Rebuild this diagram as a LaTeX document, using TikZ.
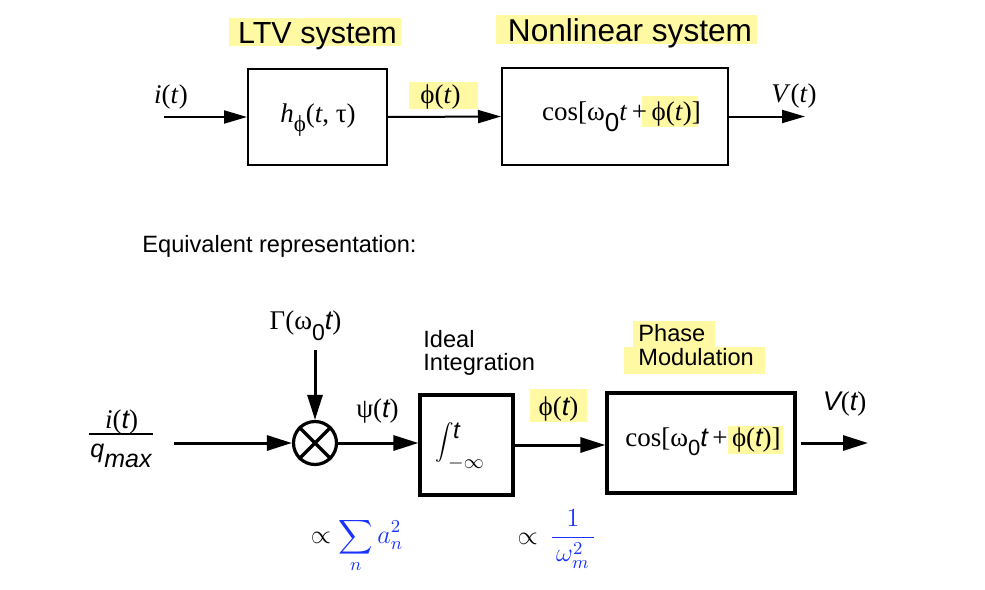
\RequirePackage{fix-cm}
\documentclass[tikz,border=0pt]{standalone}
\usepackage{exscale}
\usepackage[no-math]{fontspec}
\usetikzlibrary{arrows.meta}
\newfontfamily\lsans{Liberation Sans}
\newfontfamily\lserif{Liberation Serif}
\definecolor{hl}{HTML}{FFF9A3}
\definecolor{mblue}{HTML}{1A33FF}
\newcommand\ti[1]{\textit{#1}}
\newcommand\st{{\lsans\itshape t}}
\newcommand\zsub[3]{\raisebox{-#1}{\lsans\fontsize{#2}{#2}\selectfont #3}}
\begin{document}
\begin{tikzpicture}[x=0.5pt,y=-0.5pt,
  boxA/.style={draw,line width=1pt,inner sep=0pt},
  boxB/.style={draw,line width=1.6pt,inner sep=0pt},
  arrA/.style={line width=1pt,-{Triangle[length=11.5pt,width=6.5pt]}},
  arrB/.style={line width=1.5pt,-{Triangle[length=12.5pt,width=7.5pt]}},
  srf/.style={inner sep=0pt,font=\lserif\fontsize{13.5}{15}\selectfont},
  txt/.style={inner sep=0pt,font=\lsans\fontsize{11.8}{14}\selectfont},
  mth/.style={inner sep=0pt,font=\fontsize{13}{15}\selectfont}]
\useasboundingbox (0,0) rectangle (985,589);
% ---------- top row ----------
\fill[hl] (229,18) rectangle (401,46);
\fill[hl] (496,15) rectangle (757,44);
\fill[hl] (409,82) rectangle (478,109);
\fill[hl] (642,96) rectangle (698,127);
\node[inner sep=0pt,font=\lsans\fontsize{15.25}{17}\selectfont,anchor=base] (ltv) at (317.5,43) {LTV system};
\node[inner sep=0pt,font=\lsans\fontsize{15.8}{17}\selectfont,anchor=base] (nls) at (630,41) {Nonlinear system};
\node[boxA,minimum width=69.5pt,minimum height=48pt] (b1) at (317.5,117) {};
\node[boxA,minimum width=113pt,minimum height=48.5pt] (b2) at (615,116.5) {};
\node[srf,anchor=base] (b1t) at (318,122) {\ti{h}\raisebox{-4.5pt}{\fontsize{11.5}{12}\selectfont ϕ}(\ti{t}, τ)};
\node[srf,anchor=base] (b2t) at (621.5,120) {cos[ω\zsub{5.5pt}{13}{0}\ti{t}\,+\,ϕ(\ti{t})]};
\node[srf,anchor=base] (it1) at (171,103) {\ti{i}(\ti{t})};
\node[srf,anchor=base] (ph1) at (440.5,103) {ϕ(\ti{t})};
\node[srf,anchor=base] (vt1) at (794,102) {\ti{V}(\ti{t})};
\coordinate (in1) at (164,117);
\coordinate (out1) at (805,116.5);
\draw[arrA] (in1) -- (in1 -| b1.west);
\draw[arrA] (b1.east) -- (b2.west);
\draw[arrA] (b2.east) -- (out1);
% ---------- caption ----------
\node[txt,anchor=base west] (eq) at (142,252) {Equivalent representation:};
% ---------- bottom row ----------
\fill[hl] (530,389) rectangle (587,422);
\fill[hl] (633,321) rectangle (715,347);
\fill[hl] (624,347) rectangle (765,374);
\fill[hl] (728,426) rectangle (783,454);
\node[txt,anchor=base west] (id1) at (423,347) {Ideal};
\node[txt,anchor=base west] (id2) at (423,370) {Integration};
\node[txt,anchor=base west] (pm1) at (638,341) {Phase};
\node[txt,anchor=base west] (pm2) at (638,365) {Modulation};
\node[draw,circle,line width=1.6pt,minimum size=21.5pt,inner sep=0pt] (m) at (315,443) {};
\draw[line width=1.6pt] (m.45) -- (m.225) (m.135) -- (m.315);
\node[boxB,minimum width=46.5pt,minimum height=50pt] (b3) at (466.5,445) {};
\node[boxB,minimum width=94pt,minimum height=50pt] (b4) at (701,443) {};
\node[inner sep=0pt,font=\fontsize{9}{10}\selectfont] (int) at (445,442.5) {$\displaystyle\int$};
\node[inner sep=0pt,font=\lsans\itshape\fontsize{12}{12}\selectfont] (intu) at (456.5,431) {t};
\node[inner sep=0pt,font=\fontsize{10}{10}\selectfont] (intl) at (466,463) {$-\infty$};
\node[srf,anchor=base] (b4t) at (703,446) {cos[ω\zsub{4.5pt}{11}{0}\st\,+\,ϕ(\st)]};
\node[srf,anchor=base] (gam) at (305.5,329) {Γ(ω\zsub{5.5pt}{11.5}{0}\st)};
\node[srf,anchor=base] (psi) at (377.5,417) {ψ(\st)};
\node[srf,anchor=base] (ph2) at (558.5,415) {ϕ(\st)};
\node[srf,anchor=base] (vt2) at (844.5,410) {{\lsans\itshape V}(\st)};
\node[srf,anchor=base] (num) at (121.5,428) {\ti{i}(\st)};
\draw[line width=1pt] (89,434) -- (153,434);
\node[inner sep=0pt,anchor=base west,font=\lsans\itshape\fontsize{12.5}{14}\selectfont] (den) at (90,457) {q\raisebox{-5pt}{max}};
\coordinate (in2) at (174,443);
\coordinate (gt) at (315,350);
\coordinate (out2) at (868,443);
\draw[arrB] (in2) -- (m.west);
\draw[arrB] (gt) -- (m.north);
\draw[arrB] (m.east) -- (m.east -| b3.west);
\draw[arrB] (b3.east) -- (b3.east -| b4.west);
\draw[arrB] ([xshift=2pt]b4.east) -- (out2);
% ---------- blue annotations ----------
\node[mth,anchor=base] (s1) at (357,543.5) {$\propto\color{mblue}\displaystyle\sum_n a_n^2$};
\node[mth,anchor=base] (s2) at (557,544) {$\propto\,\color{mblue}\displaystyle\frac{1}{\,\omega_m^2\,}$};
\end{tikzpicture}
\end{document}
